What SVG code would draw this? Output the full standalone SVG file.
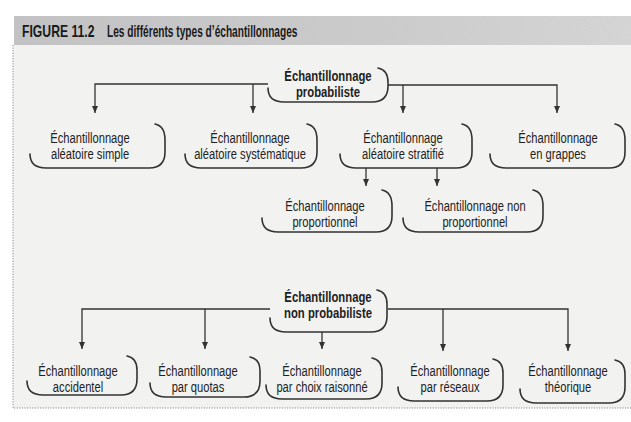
<svg xmlns="http://www.w3.org/2000/svg" width="631" height="422" viewBox="0 0 631 422">
  <style>
    .lbl { font-family: "Liberation Sans", Arial, sans-serif; font-size: 14.5px; fill: #1e1e1e; text-anchor: middle; }
    .bold { font-weight: bold; }
    .title { font-family: "Liberation Sans", Arial, sans-serif; font-size: 16.5px; font-weight: bold; fill: #1a1a1a; }
    .box { fill: none; stroke: #333; stroke-width: 1.6; stroke-linecap: round; }
    .wire { fill: none; stroke: #333; stroke-width: 1.3; }
    .frame { fill: none; stroke: #8a8a8a; stroke-width: 1; stroke-dasharray: 1.2 1.4; }
  </style>
  <defs>
    <marker id="tip" viewBox="0 0 6 7" refX="3" refY="7" markerWidth="6" markerHeight="7" markerUnits="userSpaceOnUse" orient="0">
      <path d="M0,0 L6,0 L3,7 Z" fill="#333"/>
    </marker>
    <filter id="grain" x="0" y="0" width="100%" height="100%">
      <feTurbulence type="fractalNoise" baseFrequency="0.9" numOctaves="2" seed="4" result="n"/>
      <feColorMatrix in="n" type="matrix" values="0 0 0 0 0.55  0 0 0 0 0.55  0 0 0 0 0.55  0 0 0 0.35 0" result="g"/>
      <feComposite in="g" in2="SourceGraphic" operator="in" result="gc"/>
      <feMerge><feMergeNode in="SourceGraphic"/><feMergeNode in="gc"/></feMerge>
    </filter>
    <linearGradient id="band" x1="0" y1="0" x2="1" y2="0">
      <stop offset="0" stop-color="#c2c2c4"/>
      <stop offset="0.6" stop-color="#cdcdce"/>
      <stop offset="1" stop-color="#d8d8d8"/>
    </linearGradient>
  </defs>

  <!-- page -->
  <rect x="0" y="0" width="631" height="422" fill="#ffffff"/>
  <rect x="13" y="45" width="618" height="363" fill="#f2f2f0"/>

  <!-- header band -->
  <rect x="14" y="16" width="617" height="29" fill="url(#band)" filter="url(#grain)"/>
  <text class="title" transform="translate(22 37) scale(0.74 1)">FIGURE 11.2</text>
  <text class="title" transform="translate(107 37) scale(0.615 1)">Les différents types d’échantillonnages</text>

  <!-- dotted frame -->
  <path class="frame" d="M13,45 V408 H631"/>

  <!-- connectors -->
  <g id="connectors">
    <path class="wire" d="M268,84 H95 V113" marker-end="url(#tip)"/>
    <path class="wire" d="M253,84 V113" marker-end="url(#tip)"/>
    <path class="wire" d="M388,85 H557 V113" marker-end="url(#tip)"/>
    <path class="wire" d="M403,85 V113" marker-end="url(#tip)"/>
    <path class="wire" d="M366,168 V186" marker-end="url(#tip)"/>
    <path class="wire" d="M437,168 V186" marker-end="url(#tip)"/>
    <path class="wire" d="M270,309 H82 V349" marker-end="url(#tip)"/>
    <path class="wire" d="M205,309 V349" marker-end="url(#tip)"/>
    <path class="wire" d="M388,309 H568 V351" marker-end="url(#tip)"/>
    <path class="wire" d="M443,309 V351" marker-end="url(#tip)"/>
    <path class="wire" d="M322,332 V349" marker-end="url(#tip)"/>
  </g>

  <!-- probability root -->
  <g id="probabiliste">
    <path class="box" d="M268,88 Q268,102 284,102 H372 Q388,102 388,86 V82 Q388,70 378,68"/>
    <text class="lbl bold" transform="translate(328 81) scale(0.78 1)">Échantillonnage</text>
    <text class="lbl bold" transform="translate(328 97) scale(0.78 1)">probabiliste</text>
  </g>

  <!-- probability methods -->
  <g id="aleatoire-simple">
    <path class="box" d="M30,154 Q30,168 46,168 H149 Q165,168 165,152 V140 Q165,126 155,124"/>
    <text class="lbl" transform="translate(90 143) scale(0.77 1)">Échantillonnage</text>
    <text class="lbl" transform="translate(90 159) scale(0.77 1)">aléatoire simple</text>
  </g>
  <g id="aleatoire-systematique">
    <path class="box" d="M185,154 Q185,168 201,168 H301 Q317,168 317,152 V140 Q317,126 307,124"/>
    <text class="lbl" transform="translate(250 143) scale(0.77 1)">Échantillonnage</text>
    <text class="lbl" transform="translate(250 159) scale(0.77 1)">aléatoire systématique</text>
  </g>
  <g id="aleatoire-stratifie">
    <path class="box" d="M340,154 Q340,168 356,168 H456 Q472,168 472,152 V140 Q472,126 462,124"/>
    <text class="lbl" transform="translate(403 143) scale(0.77 1)">Échantillonnage</text>
    <text class="lbl" transform="translate(403 159) scale(0.77 1)">aléatoire stratifié</text>
  </g>
  <g id="en-grappes">
    <path class="box" d="M490,154 Q490,168 506,168 H609 Q625,168 625,152 V140 Q625,126 615,124"/>
    <text class="lbl" transform="translate(558 143) scale(0.77 1)">Échantillonnage</text>
    <text class="lbl" transform="translate(558 159) scale(0.77 1)">en grappes</text>
  </g>

  <!-- stratified sub-methods -->
  <g id="proportionnel">
    <path class="box" d="M262,218 Q262,232 278,232 H376 Q392,232 392,216 V206 Q392,192 382,190"/>
    <text class="lbl" transform="translate(325 211) scale(0.77 1)">Échantillonnage</text>
    <text class="lbl" transform="translate(325 227) scale(0.77 1)">proportionnel</text>
  </g>
  <g id="non-proportionnel">
    <path class="box" d="M403,218 Q403,232 419,232 H527 Q543,232 543,216 V206 Q543,192 533,190"/>
    <text class="lbl" transform="translate(475 211) scale(0.77 1)">Échantillonnage non</text>
    <text class="lbl" transform="translate(475 227) scale(0.77 1)">proportionnel</text>
  </g>

  <!-- non-probability root -->
  <g id="non-probabiliste">
    <path class="box" d="M270,318 Q270,332 286,332 H371 Q387,332 387,316 V304 Q387,292 377,290"/>
    <text class="lbl bold" transform="translate(328 302) scale(0.78 1)">Échantillonnage</text>
    <text class="lbl bold" transform="translate(328 318) scale(0.78 1)">non probabiliste</text>
  </g>

  <!-- non-probability methods -->
  <g id="accidentel">
    <path class="box" d="M27,381 Q27,395 43,395 H121 Q137,395 137,379 V370 Q137,358 127,356"/>
    <text class="lbl" transform="translate(78 376) scale(0.77 1)">Échantillonnage</text>
    <text class="lbl" transform="translate(78 392) scale(0.77 1)">accidentel</text>
  </g>
  <g id="par-quotas">
    <path class="box" d="M150,383 Q150,397 166,397 H244 Q260,397 260,381 V371 Q260,359 250,357"/>
    <text class="lbl" transform="translate(198 376) scale(0.77 1)">Échantillonnage</text>
    <text class="lbl" transform="translate(198 392) scale(0.77 1)">par quotas</text>
  </g>
  <g id="choix-raisonne">
    <path class="box" d="M266,385 Q266,399 282,399 H366 Q382,399 382,383 V372 Q382,360 372,358"/>
    <text class="lbl" transform="translate(322 376) scale(0.77 1)">Échantillonnage</text>
    <text class="lbl" transform="translate(322 392) scale(0.77 1)">par choix raisonné</text>
  </g>
  <g id="par-reseaux">
    <path class="box" d="M398,387 Q398,401 414,401 H487 Q503,401 503,385 V373 Q503,361 493,359"/>
    <text class="lbl" transform="translate(450 376) scale(0.77 1)">Échantillonnage</text>
    <text class="lbl" transform="translate(450 392) scale(0.77 1)">par réseaux</text>
  </g>
  <g id="theorique">
    <path class="box" d="M520,389 Q520,403 536,403 H609 Q625,403 625,387 V374 Q625,362 615,360"/>
    <text class="lbl" transform="translate(568 376) scale(0.77 1)">Échantillonnage</text>
    <text class="lbl" transform="translate(568 392) scale(0.77 1)">théorique</text>
  </g>
</svg>
